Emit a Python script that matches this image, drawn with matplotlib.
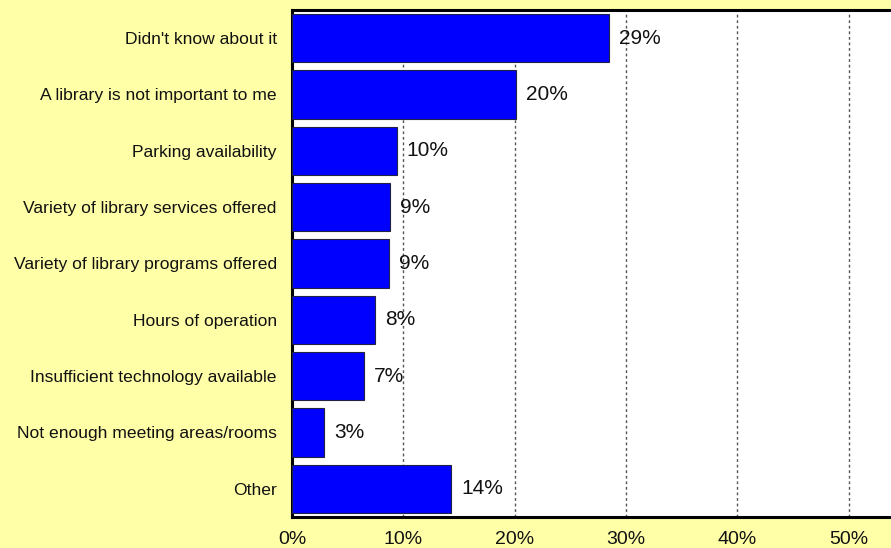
import matplotlib.pyplot as plt
from matplotlib.ticker import MultipleLocator, PercentFormatter

# --- Dados ---
categorias = [
    "Didn't know about it",
    "A library is not important to me",
    "Parking availability",
    "Variety of library services offered",
    "Variety of library programs offered",
    "Hours of operation",
    "Insufficient technology available",
    "Not enough meeting areas/rooms",
    "Other",
]
valores = [0.285, 0.201, 0.094, 0.088, 0.087, 0.075, 0.065, 0.029, 0.143]
rotulos = ["29%", "20%", "10%", "9%", "9%", "8%", "7%", "3%", "14%"]

plt.rcParams["font.family"] = ["Liberation Sans", "DejaVu Sans"]

fig = plt.figure(figsize=(8.91, 5.48), dpi=100)
fig.patch.set_facecolor("#FFFFA8")
ax = fig.add_axes([0.3277, 0.0566, 0.6723, 0.9252])
ax.set_facecolor("white")

pos = list(range(len(categorias)))
ax.barh(pos, valores, height=0.86, color="#0000FF", edgecolor="#222244",
        linewidth=0.8, zorder=3)

# rótulos de valor à direita das barras
for p, v, r in zip(pos, valores, rotulos):
    ax.annotate(r, xy=(v, p), xytext=(7, 0), textcoords="offset points",
                va="center", ha="left", fontsize=15, color="#111111", zorder=4)

ax.set_ylim(len(categorias) - 0.5, -0.5)
ax.set_xlim(0, 0.538)
ax.set_yticks(pos)
ax.set_yticklabels(categorias, fontsize=12.6, color="#111111")
ax.xaxis.set_major_locator(MultipleLocator(0.1))
ax.xaxis.set_major_formatter(PercentFormatter(1.0, decimals=0))
ax.tick_params(axis="x", length=0, pad=10, labelsize=14, labelcolor="#111111")
ax.tick_params(axis="y", length=0, pad=11)

ax.grid(axis="x", color="#555555", linestyle=(0, (2, 2)), linewidth=1.0, zorder=1)

for lado in ("top", "bottom", "left"):
    ax.spines[lado].set_linewidth(2.2)
    ax.spines[lado].set_color("black")
ax.spines["right"].set_visible(False)

plt.savefig("out.png", dpi=100, facecolor=fig.get_facecolor())
